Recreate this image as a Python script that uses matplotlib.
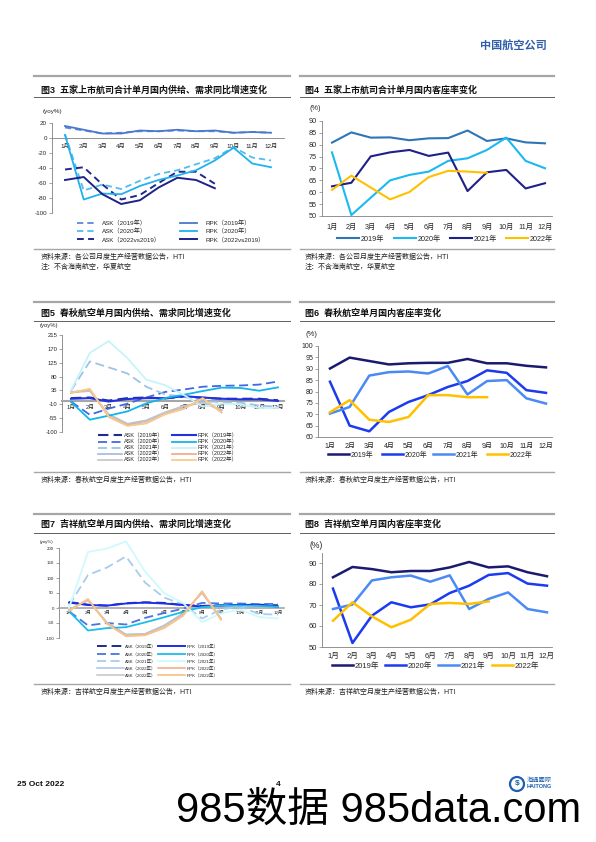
################################################################################
#  plot.py - page 4 of the airline monthly report: six domestic traffic charts #
################################################################################

import numpy as np
import matplotlib.pyplot as plt
from matplotlib.lines import Line2D
from matplotlib.patches import Ellipse

plt.rcParams['font.family'] = ['Liberation Sans', 'Noto Sans CJK SC']
plt.rcParams['axes.unicode_minus'] = False

W, H = 596, 842

################################################################################
#  DATA                                                                        #
################################################################################

MONTHS = ['1月', '2月', '3月', '4月', '5月', '6月', '7月', '8月', '9月', '10月',
          '11月', '12月']
YEARS = ['2019年', '2020年', '2021年', '2022年']

# fig3 - five listed airlines, yoy %
F3_ASK_2019 = [14, 10, 6, 7, 9, 9, 10, 9, 9, 7, 8, 7]
F3_RPK_2019 = [16, 11, 6, 6, 10, 9, 11, 9, 10, 7, 8, 7]
F3_ASK_2020 = [5, -70, -62, -68, -57, -48, -43, -35, -27, -12, -26, -30]
F3_RPK_2020 = [4, -82, -74, -75, -64, -56, -50, -43, -30, -13, -34, -39]
F3_ASK_2022 = [-42, -39, -62, -82, -76, -60, -45, -45, -61]
F3_RPK_2022 = [-56, -52, -75, -88, -83, -66, -53, -56, -67]

# fig4 - five listed airlines, load factor %
F4_2019 = [80.9, 85.2, 83.0, 83.1, 81.9, 82.7, 82.8, 86.0, 81.6, 82.7, 81.0, 80.6]
F4_2020 = [76.8, 50.4, 57.7, 65.0, 67.3, 68.7, 73.2, 74.3, 77.8, 83.0, 73.2, 70.1]
F4_2021 = [62.5, 64.0, 75.1, 76.8, 77.8, 75.3, 76.7, 60.5, 68.4, 69.4, 61.6, 63.8]
F4_2022 = [61.0, 67.0, 62.0, 57.0, 60.1, 66.4, 69.0, 68.7, 68.2]

# fig5 - Spring Airlines, yoy %
F5_ASK_2019 = [10, 12, 2, 10, 12, 9, 15, 11, 8, 8, 8, 3]
F5_RPK_2019 = [8, 10, -1, 7, 10, 10, 16, 12, 8, 6, 6, 1]
F5_ASK_2020 = [-1, -44, -24, -8, 12, 30, 38, 47, 50, 51, 54, 64]
F5_RPK_2020 = [-2, -60, -47, -33, -7, 10, 21, 33, 44, 43, 34, 45]
F5_ASK_2021 = [34, 129, 110, 90, 47, 22, 14, 0, -3, -5, -14, -18]
F5_RPK_2021 = [35, 157, 195, 140, 70, 52, 20, -18, -8, -10, -22, -22]
F5_ASK_2022A = [30, 35, -45, -76, -64, -38, -17, -3, -30]
F5_ASK_2022B = [28, 33, -42, -73, -62, -36, -15, -5, -28]
F5_RPK_2022A = [27, 39, -51, -79, -71, -42, -24, 9, -36]
F5_RPK_2022B = [28, 40, -50, -80, -72, -42, -25, 10, -37]

# fig6 - Spring Airlines, load factor %
F6_2019 = [90.1, 94.9, 93.4, 91.9, 92.4, 92.6, 92.6, 94.3, 92.4, 92.4, 91.3, 90.6]
F6_2020 = [84.3, 65.0, 62.5, 71.0, 75.4, 78.4, 82.0, 84.6, 89.3, 88.2, 80.6, 79.4]
F6_2021 = [70.3, 73.2, 87.0, 88.5, 88.8, 87.9, 91.2, 78.7, 84.6, 85.0, 77.0, 74.7]
F6_2022 = [70.9, 76.2, 67.6, 66.6, 68.8, 78.4, 78.4, 77.5, 77.5]

# fig7 - Juneyao Airlines, yoy %
F7_ASK_2019 = [20, 11, 8, 16, 19, 17, 10, 7, 9, 10, 11, 9]
F7_RPK_2019 = [18, 10, 8, 15, 18, 15, 10, 5, 8, 10, 9, 5]
F7_ASK_2020 = [-11, -58, -50, -55, -33, -17, -2, 17, 15, 15, 13, 14]
F7_RPK_2020 = [-11, -75, -67, -64, -48, -31, -13, 3, 8, 8, 7, 4]
F7_ASK_2021 = [8, 110, 135, 172, 85, 35, 12, -35, -5, 5, -20, -22]
F7_RPK_2021 = [0, 187, 198, 222, 122, 50, 17, -47, -18, -5, -30, -35]
F7_ASK_2022A = [-5, 25, -48, -88, -86, -58, -18, 50, -35]
F7_ASK_2022B = [-6, 26, -50, -89, -87, -60, -20, 52, -36]
F7_RPK_2022A = [-9, 29, -52, -93, -90, -66, -25, 55, -38]
F7_RPK_2022B = [-10, 30, -53, -94, -91, -67, -26, 56, -39]

# fig8 - Juneyao Airlines, load factor %
F8_2019 = [83.2, 88.1, 87.1, 85.6, 86.2, 86.2, 87.9, 90.5, 87.9, 88.4, 85.6, 83.7]
F8_2020 = [77.8, 51.9, 64.9, 71.3, 68.9, 70.3, 75.7, 79.2, 84.3, 85.2, 80.2, 79.2]
F8_2021 = [68.1, 70.2, 81.7, 83.2, 84.0, 81.1, 84.1, 68.1, 72.9, 76.0, 68.1, 66.5]
F8_2022 = [62.5, 71.3, 64.6, 59.4, 63.0, 70.5, 71.0, 70.5, 71.7]

SRC_ALL = '资料来源：各公司月度生产经营数据公告，HTI'
NOTE_ALL = '注：不含海南航空，华夏航空'
SRC_SPRING = '资料来源：春秋航空月度生产经营数据公告，HTI'
SRC_JUNEYAO = '资料来源：吉祥航空月度生产经营数据公告，HTI'


################################################################################
#  HELPERS                                                                     #
################################################################################

def fx(x):
    return x / W


def fy(y):
    return 1 - y / H


def hline(fig, x0, x1, y, color, lw):
    fig.add_artist(Line2D([fx(x0), fx(x1)], [fy(y), fy(y)], color=color, lw=lw,
                          transform=fig.transFigure))


"""
Gray rules, title and source lines around one chart.
"""
def panel(fig, x0, x1, ys, title, sources, tx):
    y_top, y_title, y_sub, y_bot = ys
    hline(fig, x0, x1, y_top, '#A6A6A6', 1.6)
    fig.text(fx(tx), fy(y_title), title, fontsize=6.5, fontweight='bold',
             va='center', color='#111111')
    hline(fig, x0, x1, y_sub, '#606060', 0.7)
    hline(fig, x0, x1, y_bot, '#A6A6A6', 1.0)
    for i, s in enumerate(sources):
        fig.text(fx(tx), fy(y_bot + 8 + 10 * i), s, fontsize=5, va='center',
                 color='#222222')


"""
Axes placed by pixels: first/last month centres and two y levels.
"""
def make_ax(fig, left, right, x_first, x_last, ylo, ylo_px, yhi, yhi_px):
    ax = fig.add_axes([fx(left), fy(ylo_px), (right - left) / W,
                       (ylo_px - yhi_px) / H])
    step = (x_last - x_first) / 11
    ax.set_xlim((left - x_first) / step, 11 + (right - x_last) / step)
    ax.set_ylim(ylo, yhi)
    ax.patch.set_alpha(0)
    return ax


def style_ax(ax, yticks, fs, xpad, zero=False, zero_lw=0.6, zero_col='#808080'):
    ax.spines['top'].set_visible(False)
    ax.spines['right'].set_visible(False)
    ax.spines['left'].set_color('#808080')
    ax.spines['left'].set_linewidth(0.6)
    ax.spines['bottom'].set_color(zero_col)
    ax.spines['bottom'].set_linewidth(zero_lw)
    if zero:
        ax.spines['bottom'].set_position(('data', 0))
    ax.set_yticks(yticks)
    ax.set_yticklabels([str(v) for v in yticks])
    ax.set_xticks(range(12))
    ax.set_xticklabels(MONTHS)
    ax.tick_params(axis='y', length=2, width=0.5, color='#808080',
                   labelcolor='#262626', labelsize=fs, pad=1.5)
    ax.tick_params(axis='x', length=0, labelcolor='#262626', labelsize=fs,
                   pad=xpad)


def legend_col(fig, handles, x, y_mid, fs, hl, tp, ls):
    leg = fig.legend(handles=handles, loc='center left',
                     bbox_to_anchor=(fx(x), fy(y_mid)), frameon=False,
                     fontsize=fs, borderpad=0, borderaxespad=0, labelspacing=ls,
                     handlelength=hl, handletextpad=tp)
    for t in leg.get_texts():
        t.set_color('#262626')
    return leg


def line(ax, vals, color, lw, label, dashed=False, dashes=(3.5, 2.2)):
    x = np.arange(len(vals))
    if dashed:
        h, = ax.plot(x, vals, color=color, lw=lw, label=label, dashes=dashes,
                     zorder=3, clip_on=False)
    else:
        h, = ax.plot(x, vals, color=color, lw=lw, label=label, zorder=3,
                     clip_on=False)
    return h


################################################################################
#  MAIN                                                                        #
################################################################################

fig = plt.figure(figsize=(W / 100, H / 100), dpi=100)

LX0, LX1, RX0, RX1 = 34, 290, 300, 554
ROW1 = (76, 90, 97, 249)
ROW2 = (302, 313, 321, 472)
ROW3 = (514, 524, 533, 684)

# header
fig.text(fx(547), fy(46), '中国航空公司', fontsize=8, color='#2F5FA8',
         ha='right', va='center', fontweight='bold')

# ---------------------------------------------------------------- fig3
panel(fig, LX0, LX1, ROW1, '图3  五家上市航司合计单月国内供给、需求同比增速变化',
      [SRC_ALL, NOTE_ALL], 41)
ax = make_ax(fig, 52, 284, 65, 271, -100, 213, 20, 123)
style_ax(ax, [-100, -80, -60, -40, -20, 0, 20], 4.5, 4.5, zero=True)
fig.text(fx(43), fy(112), '(yoy%)', fontsize=4.5, va='center', color='#262626')
c19, c20, c22 = '#4A78CC', '#22B0EE', '#1E2288'
a1 = line(ax, F3_ASK_2019, '#5B8AD8', 1.3, 'ASK（2019年）', True)
a2 = line(ax, F3_ASK_2020, '#4FBDF0', 1.3, 'ASK（2020年）', True)
a3 = line(ax, F3_ASK_2022, '#24288C', 1.4, 'ASK（2022vs2019）', True)
r1 = line(ax, F3_RPK_2019, c19, 1.3, 'RPK（2019年）')
r2 = line(ax, F3_RPK_2020, c20, 1.3, 'RPK（2020年）')
r3 = line(ax, F3_RPK_2022, c22, 1.4, 'RPK（2022vs2019）')
legend_col(fig, [a1, a2, a3], 77, 231, 4.5, 2.7, 1.3, 0.3)
legend_col(fig, [r1, r2, r3], 180, 231, 4.5, 2.7, 1.3, 0.3)

# ---------------------------------------------------------------- fig4
panel(fig, RX0, RX1, ROW1, '图4  五家上市航司合计单月国内客座率变化',
      [SRC_ALL, NOTE_ALL], 305)
ax = make_ax(fig, 322, 552, 332, 545, 50, 216, 90, 121)
style_ax(ax, [50, 55, 60, 65, 70, 75, 80, 85, 90], 5.2, 6)
fig.text(fx(310), fy(108), '(%)', fontsize=5.3, va='center', color='#262626')
hs = [line(ax, F4_2019, '#2E75B6', 1.5, YEARS[0]),
      line(ax, F4_2020, '#1CB8F0', 1.5, YEARS[1]),
      line(ax, F4_2021, '#20208A', 1.5, YEARS[2]),
      line(ax, F4_2022, '#FFC000', 1.5, YEARS[3])]
for h, x in zip(hs, [337, 394, 450, 506]):
    legend_col(fig, [h], x, 239, 5.2, 3.0, 0.3, 0.2)

# ---------------------------------------------------------------- fig5
panel(fig, LX0, LX1, ROW2, '图5  春秋航空单月国内供给、需求同比增速变化',
      [SRC_SPRING], 41)
ax = make_ax(fig, 62, 284, 71, 278, -100, 432, 215, 335)
style_ax(ax, [-100, -55, -10, 35, 80, 125, 170, 215], 4.2, 2.5, zero=True,
         zero_lw=1.5, zero_col='#A6A6A6')
fig.text(fx(40), fy(325), '(yoy%)', fontsize=4.2, va='center', color='#262626')
d = (5.0, 2.5)
a1 = line(ax, F5_ASK_2019, '#1F2D8A', 1.5, 'ASK（2019年）', True, d)
a2 = line(ax, F5_ASK_2020, '#4169E1', 1.3, 'ASK（2020年）', True, d)
a3 = line(ax, F5_ASK_2021, '#9DC3E6', 1.3, 'ASK（2021年）', True, d)
a4 = line(ax, F5_ASK_2022A, '#A4B8DE', 1.2, 'ASK（2022年）')
a5 = line(ax, F5_ASK_2022B, '#C4C4C4', 1.2, 'ASK（2022年）')
r1 = line(ax, F5_RPK_2019, '#2233DD', 1.5, 'RPK（2019年）')
r2 = line(ax, F5_RPK_2020, '#12B5EC', 1.3, 'RPK（2020年）')
r3 = line(ax, F5_RPK_2021, '#C6F4FA', 1.3, 'RPK（2021年）')
r4 = line(ax, F5_RPK_2022A, '#F4A582', 1.2, 'RPK（2022年）')
r5 = line(ax, F5_RPK_2022B, '#F8CA8E', 1.3, 'RPK（2022年）')
legend_col(fig, [a1, a2, a3, a4, a5], 98, 448, 4.0, 4.3, 0.3, 0.15)
legend_col(fig, [r1, r2, r3, r4, r5], 172, 448, 4.0, 4.3, 0.3, 0.15)

# ---------------------------------------------------------------- fig6
panel(fig, RX0, RX1, ROW2, '图6  春秋航空单月国内客座率变化', [SRC_SPRING], 305)
ax = make_ax(fig, 318, 552, 330, 546, 60, 437, 100, 346)
style_ax(ax, [60, 65, 70, 75, 80, 85, 90, 95, 100], 5.0, 4.5)
fig.text(fx(305), fy(335), '(%)', fontsize=5.5, va='center', color='#262626')
hs = [line(ax, F6_2019, '#1A1A6E', 1.8, YEARS[0]),
      line(ax, F6_2020, '#1C3AF0', 1.8, YEARS[1]),
      line(ax, F6_2021, '#4A8AF4', 1.8, YEARS[2]),
      line(ax, F6_2022, '#FFC000', 1.8, YEARS[3])]
for h, x in zip(hs, [328, 382, 433, 487]):
    legend_col(fig, [h], x, 455, 5.0, 3.0, 0.2, 0.2)

# ---------------------------------------------------------------- fig7
panel(fig, LX0, LX1, ROW3, '图7  吉祥航空单月国内供给、需求同比增速变化',
      [SRC_JUNEYAO], 41)
ax = make_ax(fig, 59, 284, 69, 278, -100, 638, 200, 548)
style_ax(ax, [-100, -50, 0, 50, 100, 150, 200], 3.2, 2.0, zero=True,
         zero_lw=1.2, zero_col='#A6A6A6')
fig.text(fx(40), fy(542), '(yoy%)', fontsize=3.2, va='center', color='#262626')
d = (5.0, 2.5)
a1 = line(ax, F7_ASK_2019, '#1F2D8A', 1.4, 'ASK（2019年）', True, d)
a2 = line(ax, F7_ASK_2020, '#4A74E0', 1.3, 'ASK（2020年）', True, d)
a3 = line(ax, F7_ASK_2021, '#A8CBEE', 1.3, 'ASK（2021年）', True, d)
a4 = line(ax, F7_ASK_2022A, '#A9C2EA', 1.1, 'ASK（2022年）')
a5 = line(ax, F7_ASK_2022B, '#C4C4C4', 1.1, 'ASK（2022年）')
r1 = line(ax, F7_RPK_2019, '#1E2EEA', 1.4, 'RPK（2019年）')
r2 = line(ax, F7_RPK_2020, '#1CBDEB', 1.3, 'RPK（2020年）')
r3 = line(ax, F7_RPK_2021, '#CFFAFD', 1.3, 'RPK（2021年）')
r4 = line(ax, F7_RPK_2022A, '#F4A582', 1.1, 'RPK（2022年）')
r5 = line(ax, F7_RPK_2022B, '#F7C68D', 1.3, 'RPK（2022年）')
legend_col(fig, [a1, a2, a3, a4, a5], 97, 661, 3.2, 6.0, 0.2, 0.55)
legend_col(fig, [r1, r2, r3, r4, r5], 158, 661, 3.2, 6.0, 0.4, 0.55)

# ---------------------------------------------------------------- fig8
panel(fig, RX0, RX1, ROW3, '图8  吉祥航空单月国内客座率变化', [SRC_JUNEYAO], 305)
ax = make_ax(fig, 322, 552, 333, 547, 50, 647, 95, 552.5)
style_ax(ax, [50, 60, 70, 80, 90], 5.5, 4.5)
fig.text(fx(310), fy(545), '(%)', fontsize=6.2, va='center', color='#262626')
hs = [line(ax, F8_2019, '#1A1A6E', 1.8, YEARS[0]),
      line(ax, F8_2020, '#1C3AF0', 1.8, YEARS[1]),
      line(ax, F8_2021, '#4A8AF4', 1.8, YEARS[2]),
      line(ax, F8_2022, '#FFC000', 1.8, YEARS[3])]
for h, x in zip(hs, [332, 385, 438, 492]):
    legend_col(fig, [h], x, 666, 5.5, 2.8, 0.2, 0.2)

# footer
fig.text(fx(17), fy(785), '25 Oct 2022', fontsize=6, fontweight='bold',
         va='center', color='#111111')
fig.text(fx(276), fy(785), '4', fontsize=6, fontweight='bold', va='center',
         color='#111111')
fig.add_artist(Ellipse((fx(517), fy(784)), 14 / W, 14 / H, fill=False,
                       ec='#1F5FAF', lw=1.6, transform=fig.transFigure))
fig.text(fx(517), fy(784), '$', fontsize=6, ha='center', va='center',
         color='#1F5FAF', fontweight='bold')
fig.text(fx(527), fy(780), '海通國際', fontsize=4.5, va='center', color='#1F5FAF')
fig.text(fx(527), fy(787), 'HAITONG', fontsize=4, va='center', color='#1F5FAF',
         fontweight='bold')
fig.text(fx(176), fy(811), '985数据 985data.com', fontsize=30, va='center',
         color='#000000')

fig.savefig('out.png', dpi=100)
